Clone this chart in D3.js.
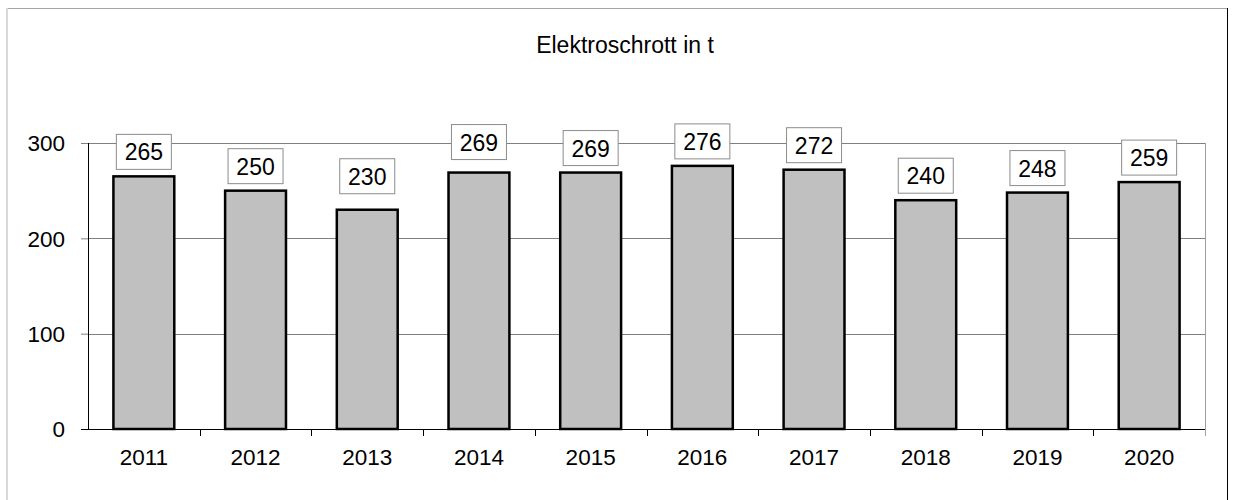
<!DOCTYPE html>
<html>
<head>
<meta charset="utf-8">
<script src="https://cdn.jsdelivr.net/npm/d3@7"></script>
<style>
	body { margin: 0; background: #fff; }
	text { font-family: Arial, 'Liberation Sans', sans-serif; fill: #000; }
</style>
</head>
<body>
<div id="chart"></div>
<script>
let years = ['2011','2012','2013','2014','2015','2016','2017','2018','2019','2020'];
let values = [265, 250, 230, 269, 269, 276, 272, 240, 248, 259];
let yTicks = [0, 100, 200, 300];
let title = 'Elektroschrott in t';

// labels that Excel pushed a bit higher than the rest
let extraLift = {'2013': 9, '2014': 6};

let width = 1236, height = 500;
let margin = {left: 88, right: 31, top: 143, bottom: 71};

let svg = d3.select('#chart').append('svg')
			.attr('width', width)
			.attr('height', height);

// outer frame
svg.append('line').attr('x1', 7).attr('x2', 1227).attr('y1', 8.5).attr('y2', 8.5)
	.style('stroke', '#a6a6a6');
svg.append('line').attr('x1', 7).attr('x2', 7).attr('y1', 8).attr('y2', height)
	.style('stroke', '#d9d9d9').style('stroke-width', 2);
svg.append('line').attr('x1', 1227.5).attr('x2', 1227.5).attr('y1', 8).attr('y2', height)
	.style('stroke', '#000');

let x = d3.scaleBand()
			.domain(years)
			.range([margin.left, width - margin.right])
			.paddingInner(0.455)
			.paddingOuter(0.2275);
let xOuter = d3.scaleBand().domain(years).range([margin.left, width - margin.right]);
let y = d3.scaleLinear()
			.domain([0, 300])
			.range([height - margin.bottom, margin.top]);

svg.append('text')
	.attr('x', 625)
	.attr('y', 53)
	.attr('text-anchor', 'middle')
	.style('font-size', '23px')
	.text(title);

// gridlines + y axis
let yAxis = svg.append('g')
				.attr('transform', `translate(${margin.left}, 0)`)
				.call(d3.axisLeft(y).tickValues(yTicks).tickSize(7).tickPadding(16)
						.tickFormat(d3.format('d')));
yAxis.select('.domain').remove();
yAxis.selectAll('line').style('stroke', '#808080');
yAxis.selectAll('text').style('font-size', '22.5px').attr('dy', '0.35em');

svg.append('g').selectAll('line')
	.data(yTicks.filter((d) => d > 0))
	.enter().append('line')
	.attr('x1', margin.left).attr('x2', width - margin.right)
	.attr('y1', (d) => Math.round(y(d)) + 0.5).attr('y2', (d) => Math.round(y(d)) + 0.5)
	.style('stroke', '#808080');

// right border of the plot area
svg.append('line')
	.attr('x1', width - margin.right + 0.5).attr('x2', width - margin.right + 0.5)
	.attr('y1', margin.top).attr('y2', height - margin.bottom + 7)
	.style('stroke', '#a0a0a0');

svg.append('line')
	.attr('x1', margin.left + 0.5).attr('x2', margin.left + 0.5)
	.attr('y1', margin.top).attr('y2', height - margin.bottom)
	.style('stroke', '#000');

// bars
svg.append('g').selectAll('rect')
	.data(values)
	.enter().append('rect')
	.attr('x', (d, i) => x(years[i]))
	.attr('y', (d) => y(d))
	.attr('width', x.bandwidth())
	.attr('height', (d) => y(0) - y(d))
	.style('fill', '#c0c0c0')
	.style('stroke', '#000')
	.style('stroke-width', 2.5);

// x axis
let xAxis = svg.append('g')
				.attr('transform', `translate(0, ${height - margin.bottom + 0.5})`)
				.call(d3.axisBottom(xOuter).tickSize(0).tickPadding(20));
xAxis.select('.domain').remove();
xAxis.selectAll('text').style('font-size', '22.5px');
svg.append('line')
	.attr('x1', margin.left - 7).attr('x2', width - margin.right)
	.attr('y1', height - margin.bottom + 0.5).attr('y2', height - margin.bottom + 0.5)
	.style('stroke', '#000');
svg.append('g').selectAll('line')
	.data(years.slice(1))
	.enter().append('line')
	.attr('x1', (d) => Math.round(xOuter(d)) + 0.5).attr('x2', (d) => Math.round(xOuter(d)) + 0.5)
	.attr('y1', height - margin.bottom).attr('y2', height - margin.bottom + 7)
	.style('stroke', '#000');

// value labels
let labels = svg.append('g').selectAll('.label')
				.data(values)
				.enter().append('g').attr('class', 'label')
				.attr('transform', (d, i) => {
					let cx = xOuter(years[i]) + xOuter.bandwidth() / 2;
					let bottom = y(d) - 7 - (extraLift[years[i]] || 0);
					return `translate(${cx}, ${bottom})`;
				});
labels.append('rect')
	.attr('x', -27.5)
	.attr('y', -35)
	.attr('width', 55)
	.attr('height', 35)
	.style('fill', '#fff')
	.style('stroke', '#8c8c8c');
labels.append('text')
	.attr('y', -9)
	.attr('text-anchor', 'middle')
	.style('font-size', '23px')
	.text((d) => d);
</script>
</body>
</html>
